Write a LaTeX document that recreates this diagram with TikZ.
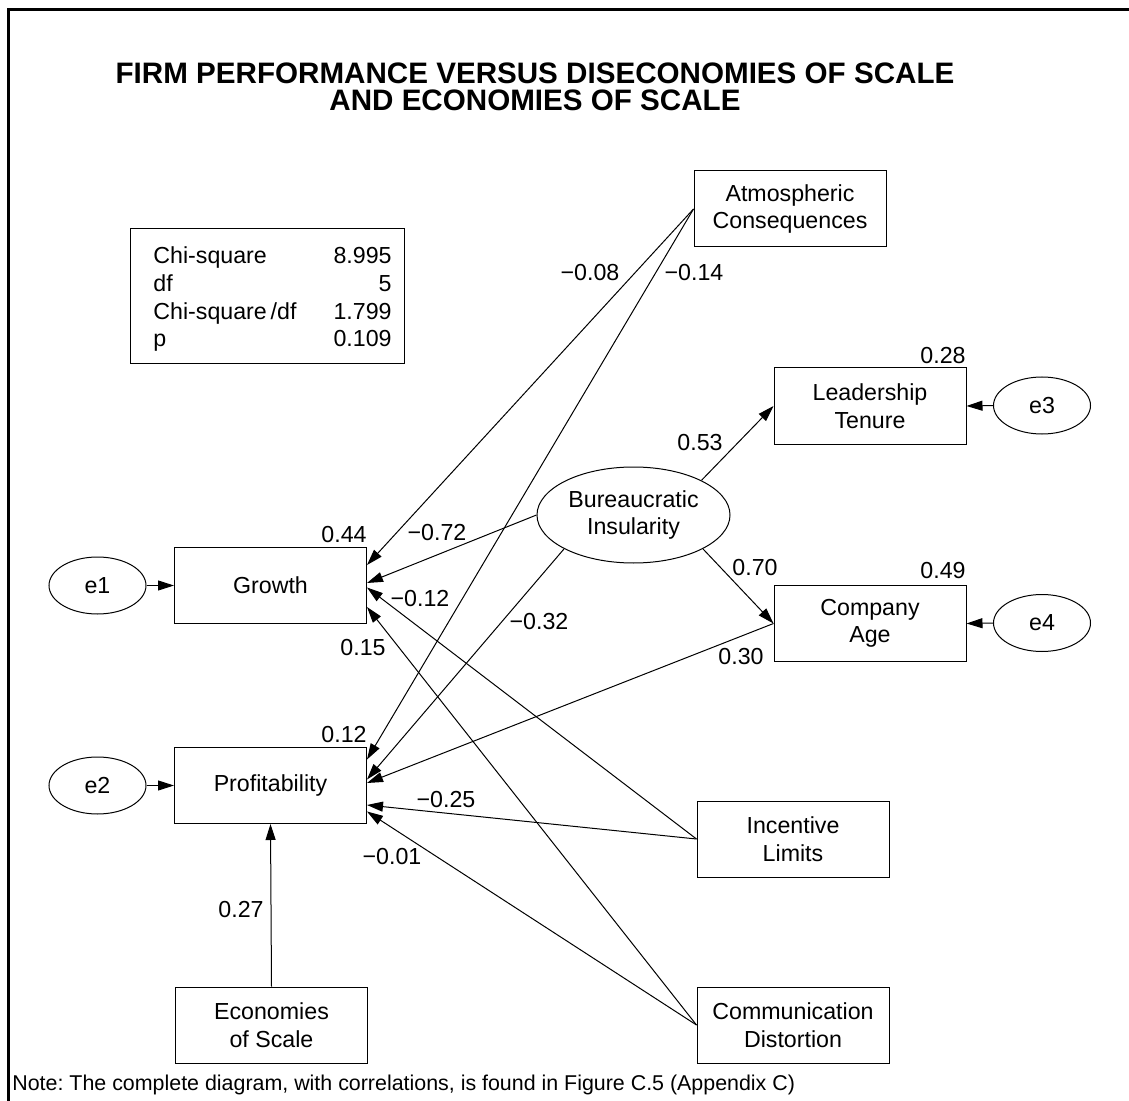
\documentclass[tikz,border=0pt]{standalone}
\usepackage{fontspec}
\setmainfont{Liberation Sans}
\usetikzlibrary{arrows.meta,calc,shapes.geometric}
\frenchspacing
\begin{document}
\begin{tikzpicture}[x=0.5pt,y=-0.5pt,
  font=\fontsize{11.6}{13.8}\selectfont,
  box/.style={draw,line width=0.5pt,inner sep=0pt,minimum width=96pt,minimum height=38pt,align=center},
  ell/.style={draw,ellipse,line width=0.5pt,inner sep=0pt,minimum width=48.5pt,minimum height=28.5pt},
  conn/.style={line width=0.5pt,-{Triangle[length=8pt,width=5pt]}},
  lbl/.style={inner sep=0pt},
  titlefont/.style={font=\bfseries\fontsize{14.8}{16}\selectfont}
]
\useasboundingbox (0,0) rectangle (1129,1101);
% frame
\draw[line width=1.5pt] (8.5,1101) -- (8.5,9.5) -- (1129,9.5);

% title
\node[titlefont,lbl] (t1) at (535,73) {FIRM PERFORMANCE VERSUS DISECONOMIES OF SCALE};
\node[titlefont,lbl] (t2) at (535,100) {AND ECONOMIES OF SCALE};

% stats box
\node[draw,line width=0.5pt,minimum width=137pt,minimum height=67.5pt,inner sep=0pt] (stats) at (267,296.5) {};
\node[lbl,anchor=base west] (s1) at (153,264) {Chi-square};
\node[lbl,anchor=base east] (v1) at (392,264) {8.995};
\node[lbl,anchor=base west] (s2) at (153,291.7) {df};
\node[lbl,anchor=base east] (v2) at (392,291.7) {5};
\node[lbl,anchor=base west] (s3) at (153,319.4) {Chi-square\,/df};
\node[lbl,anchor=base east] (v3) at (392,319.4) {1.799};
\node[lbl,anchor=base west] (s4) at (153,347) {p};
\node[lbl,anchor=base east] (v4) at (392,347) {0.109};

% nodes
\node[box] (atm) at (790,209) {Atmospheric\\Consequences};
\node[box] (lead) at (870,406) {Leadership\\Tenure};
\node[box] (age) at (870,623.5) {Company\\Age};
\node[box] (growth) at (270.5,585.5) {Growth};
\node[box] (prof) at (270.5,785.5) {Profitability};
\node[box] (lim) at (793,839) {Incentive\\Limits};
\node[box] (econ) at (271.5,1025) {Economies\\of Scale};
\node[box] (comm) at (793,1025) {Communication\\Distortion};
\node[draw,ellipse,line width=0.5pt,inner sep=0pt,minimum width=96.5pt,minimum height=48pt,align=center] (bur) at (633.5,515) {Bureaucratic\\Insularity};
\node[ell] (e1) at (97.5,585.5) {e1};
\node[ell] (e2) at (97.5,785.5) {e2};
\node[ell] (e3) at (1042,405.5) {e3};
\node[ell] (e4) at (1042,623) {e4};

% arrival points
\coordinate (g1) at ($(growth.east)+(0,-20.5)$);
\coordinate (g2) at ($(growth.east)+(0,-2.5)$);
\coordinate (g3) at ($(growth.east)+(0,2)$);
\coordinate (g4) at ($(growth.east)+(0,21.5)$);
\coordinate (p1) at ($(prof.east)+(0,-26)$);
\coordinate (p2) at ($(prof.east)+(0,-6)$);
\coordinate (p3) at ($(prof.east)+(0,-2.5)$);
\coordinate (p4) at ($(prof.east)+(0,19.5)$);
\coordinate (p5) at ($(prof.east)+(0,26)$);

% connectors
\draw[conn] (e1.east) -- (growth.west);
\draw[conn] (e2.east) -- (prof.west);
\draw[conn] (e3.west) -- (lead.east);
\draw[conn] (e4.west) -- (age.east);
\draw[conn] (bur.27.7) -- (lead.west);
\draw[conn] (bur.334) -- (age.west);
\draw[conn] (atm.west) -- (g1);
\draw[conn] (atm.west) -- (p1);
\draw[conn] (bur.west) -- (g2);
\draw[conn] (bur.206) -- (p2);
\draw[conn] (age.west) -- (p3);
\draw[conn] (lim.west) -- (g3);
\draw[conn] (lim.west) -- (p4);
\draw[conn] (comm.west) -- (g4);
\draw[conn] (comm.west) -- (p5);
\draw[conn] (econ.north) -- (prof.south);

% squared multiple correlations
\node[lbl,anchor=base east] (r1) at (367,542) {0.44};
\node[lbl,anchor=base east] (r2) at (367,742) {0.12};
\node[lbl,anchor=base east] (r3) at (966,364) {0.28};
\node[lbl,anchor=base east] (r4) at (966,578) {0.49};

% path coefficients
\node[lbl] (c1) at (590,273) {−0.08};
\node[lbl] (c2) at (694,273) {−0.14};
\node[lbl] (c3) at (700,443) {0.53};
\node[lbl] (c4) at (755,568) {0.70};
\node[lbl] (c5) at (741,657) {0.30};
\node[lbl] (c6) at (437,533) {−0.72};
\node[lbl] (c7) at (420,599) {−0.12};
\node[lbl] (c8) at (539,622) {−0.32};
\node[lbl] (c9) at (363,648) {0.15};
\node[lbl] (c10) at (446,800) {−0.25};
\node[lbl] (c11) at (392,857) {−0.01};
\node[lbl] (c12) at (241,910) {0.27};

% note
\node[lbl,anchor=west,font=\fontsize{10.7}{12}\selectfont] (note) at (12,1085) {Note: The complete diagram, with correlations, is found in Figure C.5 (Appendix C)};
\end{tikzpicture}
\end{document}
